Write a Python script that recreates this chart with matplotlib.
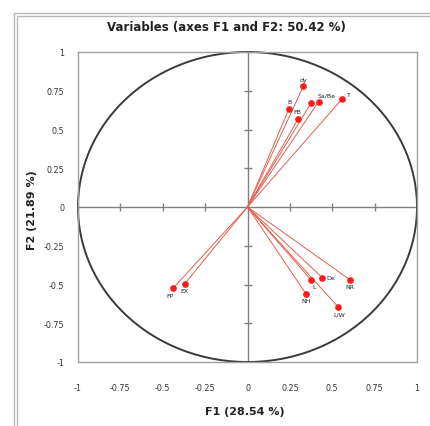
import matplotlib
matplotlib.use('Agg')
from matplotlib import pyplot as plt
from matplotlib.patches import Rectangle
import numpy as np

# Variable loadings on F1 / F2
names = ['dy', 'Sa/Be', 'T', 'B', '', 'FB', 'De', 'L', 'NR', 'NH', 'L/W', 'FP', 'EX']
f1 = [0.33, 0.42, 0.56, 0.245, 0.375, 0.30, 0.44, 0.375, 0.605, 0.345, 0.535, -0.44, -0.37]
f2 = [0.78, 0.68, 0.70, 0.635, 0.67, 0.57, -0.455, -0.47, -0.47, -0.56, -0.645, -0.525, -0.495]

ticks = [-1, -0.75, -0.5, -0.25, 0, 0.25, 0.5, 0.75, 1]
tick_labels = ['-1', '-0.75', '-0.5', '-0.25', '0', '0.25', '0.5', '0.75', '1']

title = 'Variables (axes F1 and F2: 50.42 %)'
xlab = 'F1 (28.54 %)'
ylab = 'F2 (21.89 %)'

# label placement (offset in points, alignment)
label_pos = {
    'dy': ((0, 3), 'center', 'bottom'),
    'Sa/Be': ((-1, 3), 'left', 'bottom'),
    'T': ((3, 1), 'left', 'bottom'),
    'B': ((0, 3), 'center', 'bottom'),
    'FB': ((-1, 3), 'center', 'bottom'),
    'De': ((3, 0), 'left', 'center'),
    'L': ((2, -3), 'center', 'top'),
    'NR': ((0, -3), 'center', 'top'),
    'NH': ((0, -3), 'center', 'top'),
    'L/W': ((1, -3), 'center', 'top'),
    'FP': ((-2, -3), 'center', 'top'),
    'EX': ((0, -3), 'center', 'top'),
}

fig = plt.figure(figsize=(4.3, 4.27), dpi=100)

# outer double frame
for off in [0.033, 0.040]:
    fig.patches.append(Rectangle((off, -0.1), 1.2, 1.1 - off * 430 / 427,
                                 transform=fig.transFigure, fill=False,
                                 edgecolor='#b8b8b8', lw=1.0))

ax = fig.add_axes([78 / 430, 1 - 363 / 427, 339 / 430, 310 / 427])
ax.set_xlim(-1, 1)
ax.set_ylim(-1, 1)
for s in ax.spines.values():
    s.set_color('#a0a0a0')
    s.set_linewidth(1.0)

# unit circle
t = np.linspace(0, 2 * np.pi, 400)
ax.plot(np.cos(t), np.sin(t), color='#3a3a3a', lw=1.4, clip_on=False, zorder=2)

# cross through origin with ticks
ax.axhline(0, color='#808080', lw=1.0, zorder=1)
ax.axvline(0, color='#808080', lw=1.0, zorder=1)
tk = [v for v in ticks if v != 0]
ax.plot(tk, [0] * len(tk), ls='none', marker='|', ms=6, mew=1.0, color='#808080', zorder=1)
ax.plot([0] * len(tk), tk, ls='none', marker='_', ms=6, mew=1.0, color='#808080', zorder=1)

# vectors
for x, y in zip(f1, f2):
    ax.plot([0, x], [0, y], color='#e0604f', lw=0.7, zorder=3)
ax.plot(f1, f2, ls='none', marker='o', ms=3.8, color='#ff1a1a', zorder=4)

for n, x, y in zip(names, f1, f2):
    if not n:
        continue
    (dx, dy), ha, va = label_pos[n]
    ax.annotate(n, (x, y), xytext=(dx, dy), textcoords='offset points',
                ha=ha, va=va, fontsize=4.5, color='#222222', zorder=5)

ax.set_xticks(ticks)
ax.set_xticklabels(tick_labels)
ax.set_yticks(ticks)
ax.set_yticklabels(tick_labels)
ax.tick_params(length=0, labelsize=5.8, colors='#333333')
ax.tick_params(axis='x', pad=15)
ax.tick_params(axis='y', pad=10)

fig.text(226 / 430, 1 - 27 / 427, title, ha='center', va='center',
         fontsize=8.5, fontweight='bold', color='#222222')
fig.text(245 / 430, 1 - 412 / 427, xlab, ha='center', va='center',
         fontsize=8, fontweight='bold', color='#222222')
fig.text(32 / 430, 1 - 210 / 427, ylab, ha='center', va='center', rotation=90,
         fontsize=8, fontweight='bold', color='#222222')

fig.savefig('out.png', dpi=100)
